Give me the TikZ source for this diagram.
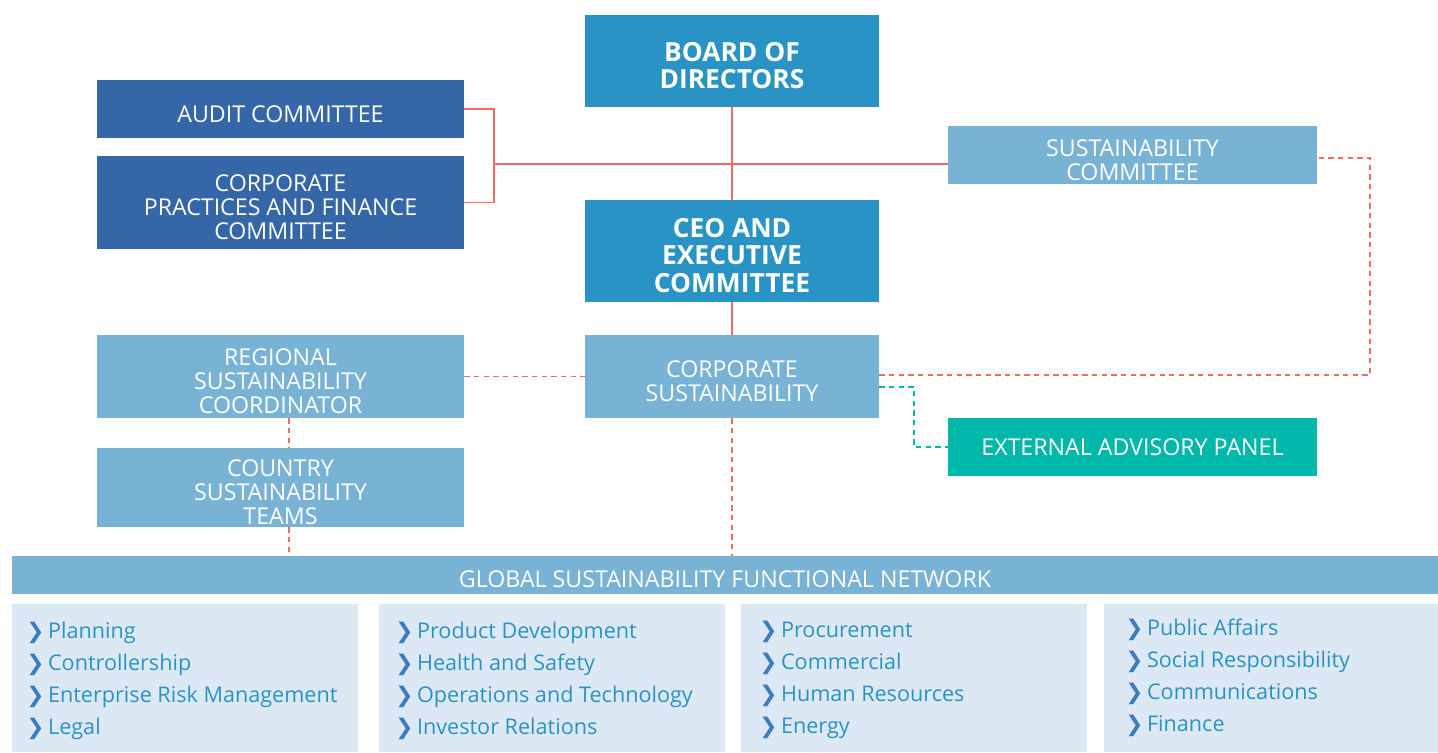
\documentclass[tikz,border=0pt]{standalone}
\usepackage{fontspec}
\setmainfont{Open Sans}
\newfontfamily\symfont{DejaVu Sans}
\definecolor{mainblue}{HTML}{2A93C5}
\definecolor{navyblue}{HTML}{3566A8}
\definecolor{lightblue}{HTML}{78B3D6}
\definecolor{tealgreen}{HTML}{00B8A9}
\definecolor{linered}{HTML}{F26B64}
\definecolor{listbg}{HTML}{DCE9F5}
\definecolor{chevblue}{HTML}{3A7CC0}
\newcommand{\chev}{{\color{chevblue}\symfont\bfseries ❯}\,}
% box label, lowered a little inside its box
\newcommand{\lbl}[2][-4.8pt]{\raisebox{#1}[\height][\depth]{\begin{tabular}{@{}c@{}}#2\end{tabular}}}
\tikzset{
  box/.style={rectangle,inner sep=0pt,text=white,
    font=\fontsize{13.2}{13.4}\selectfont},
  mainbox/.style={box,fill=mainblue,minimum width=5.88cm,
    font=\fontsize{15}{15.4}\selectfont\bfseries},
  navybox/.style={box,fill=navyblue,minimum width=7.34cm},
  lightbox/.style={box,fill=lightblue,minimum width=7.34cm},
  tealbox/.style={box,fill=tealgreen,minimum width=7.38cm},
  listbox/.style={rectangle,fill=listbg,inner sep=0pt,minimum height=2.96cm},
  listtxt/.style={inner sep=0pt,align=left,text=mainblue,
    font=\fontsize{12.3}{18.2}\selectfont},
  solidline/.style={linered,line width=0.8pt},
  reddash/.style={linered,line width=0.8pt,dash pattern=on 3pt off 2.5pt},
  tealdash/.style={tealgreen,line width=0.8pt,dash pattern=on 3pt off 2.5pt}
}
\begin{document}
\begin{tikzpicture}[x=0.02cm,y=-0.02cm]
    \useasboundingbox (0,0) rectangle (1438,752);
    %TOP BOXES
    \node[mainbox,minimum height=1.84cm] (board) at (732,61) {\lbl{BOARD OF\\DIRECTORS}};
    \node[navybox,minimum height=1.16cm] (audit) at (280.5,109) {\lbl{AUDIT COMMITTEE}};
    \node[navybox,minimum height=1.86cm] (practices) at (280.5,202.5) {\lbl{CORPORATE\\PRACTICES AND FINANCE\\COMMITTEE}};
    \node[lightbox,minimum width=7.38cm,minimum height=1.16cm] (sustcomm) at (1132.5,155) {\lbl{SUSTAINABILITY\\COMMITTEE}};
    \node[mainbox,minimum height=2.04cm] (ceo) at (732,251) {\lbl{CEO AND\\EXECUTIVE\\COMMITTEE}};
    %MIDDLE BOXES
    \node[lightbox,minimum height=1.66cm] (regional) at (280.5,376.5) {\lbl{REGIONAL\\SUSTAINABILITY\\COORDINATOR}};
    \node[lightbox,minimum width=5.88cm,minimum height=1.66cm] (corpsust) at (732,376.5) {\lbl{CORPORATE\\SUSTAINABILITY}};
    \node[tealbox,minimum height=1.16cm] (advisory) at (1132.5,447) {\lbl[-2.3pt]{EXTERNAL ADVISORY PANEL}};
    \node[lightbox,minimum height=1.58cm] (country) at (280.5,487.5) {\lbl{COUNTRY\\SUSTAINABILITY\\TEAMS}};
    %NETWORK BAR
    \node[box,fill=lightblue,minimum width=28.52cm,minimum height=0.76cm] (network) at (725,575) {\lbl[-4.3pt]{GLOBAL SUSTAINABILITY FUNCTIONAL NETWORK}};
    % LISTS
    \node[listbox,minimum width=6.92cm] (listA) at (185,678) {};
    \node[listbox,minimum width=6.92cm] (listB) at (552,678) {};
    \node[listbox,minimum width=6.92cm] (listC) at (914,678) {};
    \node[listbox,minimum width=6.68cm] (listD) at (1271,678) {};
    \node[listtxt,anchor=north west] (itemsA) at (26,622) {\chev Planning\\\chev Controllership\\\chev Enterprise Risk Management\\\chev Legal};
    \node[listtxt,anchor=north west] (itemsB) at (395,622) {\chev Product Development\\\chev Health and Safety\\\chev Operations and Technology\\\chev Investor Relations};
    \node[listtxt,anchor=north west] (itemsC) at (759,621) {\chev Procurement\\\chev Commercial\\\chev Human Resources\\\chev Energy};
    \node[listtxt,anchor=north west] (itemsD) at (1125,619) {\chev Public Affairs\\\chev Social Responsibility\\\chev Communications\\\chev Finance};
    % SOLID LINKS
    \coordinate (bracket) at (494,164);
    \draw[solidline] (audit.east) -| (bracket) |- (practices.east);
    \draw[solidline] (bracket) -- (sustcomm.west |- bracket);
    \draw[solidline] (board) -- (ceo);
    \draw[solidline] (ceo) -- (corpsust);
    % DASHED LINKS
    \coordinate (rturn) at (1370,158);
    \coordinate (tturn) at (914,387);
    \coordinate (vline) at (289,0);
    \draw[reddash] (regional.east) -- (corpsust.west);
    \draw[reddash] ([yshift=0.03cm]corpsust.east) -| (rturn) -- (sustcomm.east |- rturn);
    \draw[tealdash] (corpsust.east |- tturn) -- (tturn) |- (advisory.west);
    \draw[reddash] (regional.south -| vline) -- (country.north -| vline);
    \draw[reddash] (country.south -| vline) -- (network.north -| vline);
    \draw[reddash] (corpsust.south) -- (network.north -| corpsust);
\end{tikzpicture}
\end{document}
